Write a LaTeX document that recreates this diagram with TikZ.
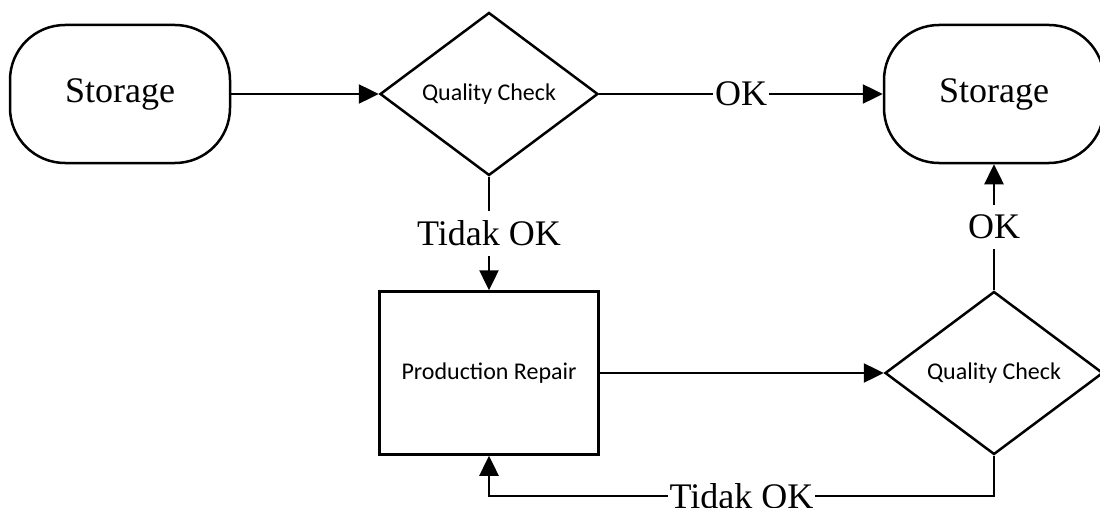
\documentclass[tikz,border=0pt]{standalone}
\usepackage{fontspec}
\setmainfont{Liberation Serif}
\newfontfamily\calibrifont{Carlito}
\usetikzlibrary{shapes.geometric, arrows.meta, positioning}

\begin{document}
\begin{tikzpicture}[x=1pt, y=-1pt, line width=2.5pt,
	every node/.style={font=\fontsize{36}{40}\selectfont},
	storebox/.style={draw, rectangle, rounded corners=55pt, minimum width=220pt, minimum height=138pt},
	checkbox/.style={draw, diamond, inner sep=0pt, minimum width=218pt, minimum height=163pt, font=\calibrifont\fontsize{24}{28}\selectfont},
	repairbox/.style={draw, rectangle, minimum width=219pt, minimum height=163pt, font=\calibrifont\fontsize{24}{28}\selectfont},
	flow/.style={-{Triangle[length=20pt, width=19pt]}},
	lbl/.style={fill=white, inner xsep=2pt, inner ysep=10pt}]
		\useasboundingbox (0,0) rectangle (1100,508);
		\node[storebox] (store1) at (120,94) {Storage};
		\node[checkbox] (check1) at (489,94) {Quality Check};
		\node[storebox] (store2) at (994,94) {Storage};
		\node[repairbox] (repair) at (489,373) {Production Repair};
		\node[checkbox] (check2) at (994,373) {Quality Check};
		\coordinate (turn) at (994,496);
		\draw[flow] (store1) -- (check1);
		\draw[flow] (check1) -- node[lbl] {OK} (store2);
		\draw[flow] (check1) -- node[lbl] {Tidak OK} (repair);
		\draw[flow] (repair) -- (check2);
		\draw[flow] (check2) -- node[lbl] {OK} (store2);
		\draw[flow] (check2) -- (turn) -- node[lbl] {Tidak OK} (turn -| repair.south) -- (repair);
	\end{tikzpicture}
\end{document}
